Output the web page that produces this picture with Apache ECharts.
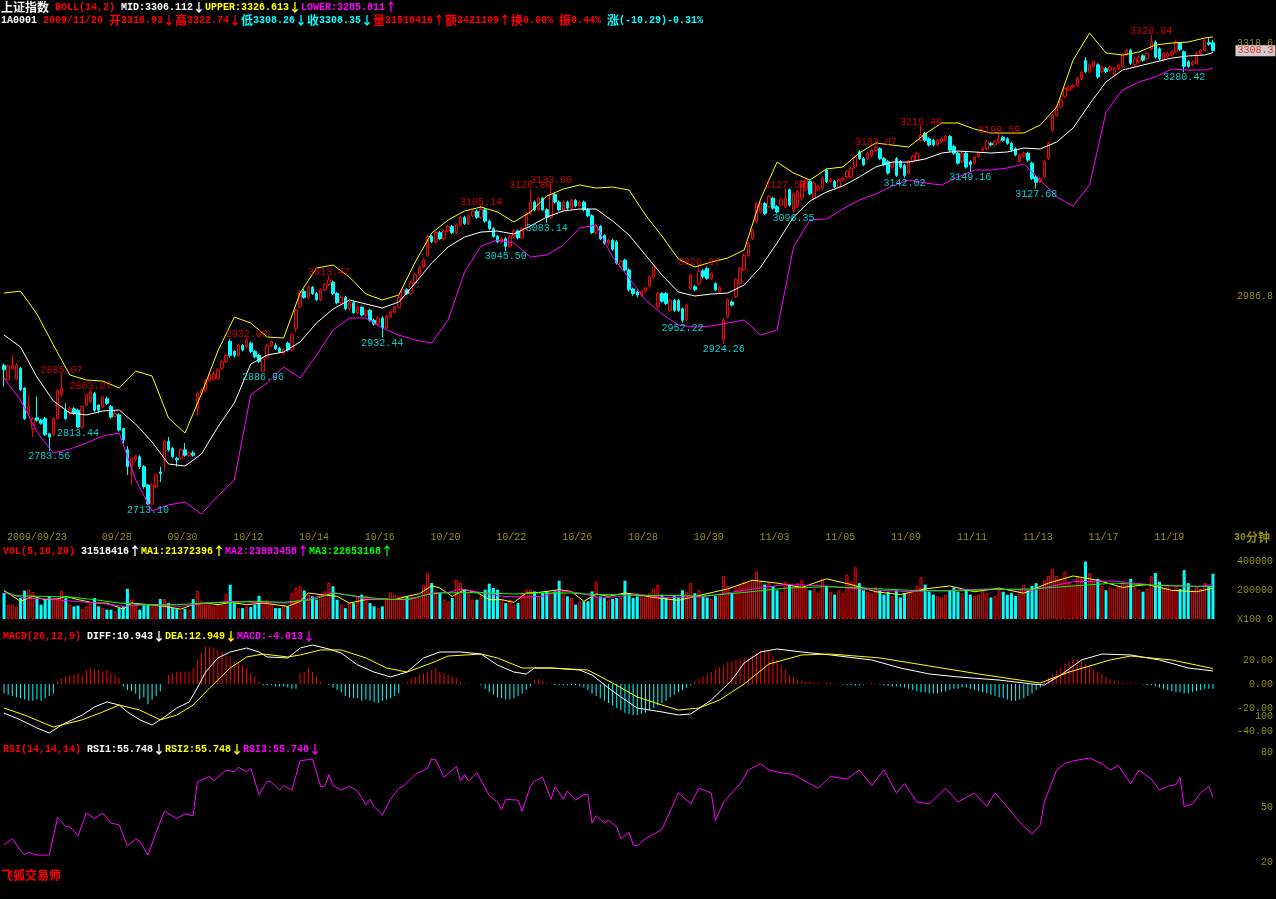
<!DOCTYPE html>
<html><head><meta charset="utf-8">
<script src="https://cdn.jsdelivr.net/npm/echarts@6.0.0/dist/echarts.min.js"></script>
<style>html,body{margin:0;padding:0;background:#000;}#c{width:1276px;height:899px;}</style>
</head><body><div id="c"></div>
<script>
// ---------- categories ----------
const dayNames = ['2009/09/23','09/24','09/25','09/28','09/29','09/30','10/09','10/12','10/13','10/14','10/15','10/16','10/19','10/20','10/21','10/22','10/23','10/26','10/27','10/28','10/29','10/30','11/02','11/03','11/04','11/05','11/06','11/09','11/10','11/11','11/12','11/13','11/16','11/17','11/18','11/19','11/20'];
const dayBars = [7,8,8,8,8,8,8,8,8,8,8,8,8,8,8,8,8,8,8,8,8,8,8,8,8,8,8,8,8,8,8,8,8,8,8,8,8];
const shownDays = ['2009/09/23','09/28','09/30','10/12','10/14','10/16','10/20','10/22','10/26','10/28','10/30','11/03','11/05','11/09','11/11','11/13','11/17','11/19'];

// ---------- 30-minute candles ----------
const O = [2896,2877,2892,2878,2892,2866,2833,2813,2827,2824,2826,2806,2805,2826,2858,2837,2833,2839,2837,2815,
2844,2848,2859,2844,2842,2852,2842,2829,2831,2813,2785,2763,2772,2776,2763,2739,2714,2737,2756,2772,
2796,2787,2774,2774,2785,2778,2781,2839,2859,2863,2876,2878,2879,2892,2901,2927,2914,2909,2922,2920,
2925,2914,2909,2888,2907,2922,2922,2918,2912,2925,2916,2944,2973,
2993,2985,2998,2990,2982,2995,3002,3005,2990,2978,2985,2970,2978,2965,2972,2962,2968,2955,2950,2958,
2945,2960,2966,2972,2985,2995,2990,3005,3015,3025,3040,3065,3058,3070,3062,3072,3078,3070,3080,3090,
3082,3092,3098,3090,3100,3085,3075,3065,3058,3062,3052,3065,3072,3063,3075,3095,3110,3100,3115,3100,
3090,3120,3110,3100,3110,3102,3112,3105,3110,3100,3092,3070,3078,3066,3056,3060,3058,3025,
3034,3021,2996,2992,2988,2993,3000,3012,2973,2990,2990,2968,2981,2981,2970,2956,2997,2999,3003,3020,
3023,3010,3003,2992,2929,2960,2979,2986,3003,3021,3040,3062,3084,3097,3108,3104,3115,3104,3106,3104,
3126,3100,3104,3115,3126,3137,3115,3126,3128,3152,3137,3137,3130,3139,3143,3143,3156,3176,3167,3167,
3171,3178,3180,3167,3163,3156,3167,3163,3158,3148,3163,3165,3191,3200,3193,3191,3185,3189,3191,3196,
3183,3174,3163,3174,3163,3161,3170,3178,3180,3187,3185,3189,3195,3193,3187,3180,3163,3170,3174,3161,
3143,3137,3143,3167,3204,3224,3235,3248,3257,3261,3263,3272,3296,3281,3288,3290,3281,3285,3283,3277,
3285,3288,3303,3309,3290,3294,3302,3298,3311,3320,3311,3296,3301,3303,3307,3318,3307,3294,3290,3292,
3305,3309,3319,3318.93];
const C = [2890,2895,2896,2896,2864,2826,2842,2826,2824,2820,2805,2802,2826,2863,2866,2826,2839,2833,2815,2842,
2857,2861,2837,2837,2854,2846,2828,2833,2811,2798,2763,2774,2776,2763,2737,2714,2739,2752,2754,2796,
2785,2776,2772,2785,2778,2781,2778,2859,2863,2876,2884,2884,2890,2901,2909,2909,2909,2922,2916,2929,
2914,2907,2901,2905,2922,2927,2918,2914,2916,2916,2936,2968,2992,
2985,2998,2990,2982,2995,3002,3008,2990,2978,2985,2970,2978,2965,2972,2962,2968,2955,2950,2958,2945,
2960,2966,2972,2985,2995,2990,3005,3015,3025,3035,3065,3058,3070,3062,3072,3078,3070,3080,3090,3082,
3092,3098,3090,3100,3085,3075,3065,3058,3062,3052,3065,3072,3063,3075,3095,3110,3100,3115,3100,3090,
3120,3110,3100,3110,3102,3112,3105,3110,3100,3092,3070,3078,3062,3056,3060,3048,3030,3032,
3021,2995,2990,2988,2993,2997,3012,3025,2990,2980,2977,2981,2968,2968,2955,2975,3014,2995,3019,3012,
3010,3016,2995,2998,2955,2982,2975,3008,3023,3040,3056,3073,3108,3108,3095,3117,3102,3097,3113,3115,
3106,3121,3124,3137,3139,3121,3135,3130,3141,3137,3140,3130,3139,3141,3150,3154,3169,3167,3159,3174,
3178,3182,3167,3159,3148,3161,3145,3156,3145,3163,3170,3174,3198,3191,3185,3185,3191,3193,3196,3178,
3174,3161,3174,3156,3159,3169,3174,3180,3189,3185,3189,3193,3191,3187,3178,3172,3172,3174,3165,3141,
3136,3141,3163,3187,3224,3235,3244,3259,3261,3263,3272,3280,3281,3290,3294,3274,3287,3281,3287,3285,
3290,3303,3309,3292,3298,3300,3296,3305,3320,3300,3298,3305,3305,3307,3320,3310,3288,3288,3294,3305,
3309,3322,3317,3308.35];
const H = [2898,2897,2909,2899,2894,2867,2857,2828,2855,2826,2828,2807,2828,2865,2885.07,2846,2842,2841,2839,2843,
2859,2863.97,2861,2844,2856,2855,2844,2836,2833,2814,2790,2776,2778,2778,2765,2740,2741,2754,2763,2799,
2802,2789,2776,2787,2794,2783,2784,2862,2866,2878,2886,2888,2892,2903,2911,2930,2916,2924,2924,2932.03,
2927,2916,2911,2907,2924,2929,2925,2920,2918,2927,2938,2970,2995,
2996,3000,3000,2992,2997,3004,3013.47,3007,2992,2987,2987,2980,2980,2974,2974,2970,2970,2957,2960,2960,
2962,2968,2974,2987,2997,2997,3007,3017,3027,3037,3067,3067,3072,3072,3074,3080,3080,3082,3092,3092,
3094,3100,3100,3105.14,3102,3087,3077,3067,3064,3064,3067,3074,3074,3077,3097,3126.80,3112,3117,3117,3102,
3133.60,3122,3112,3112,3112,3114,3114,3112,3112,3102,3094,3080,3080,3068,3062,3062,3060,3034,
3036,3023,2998,2994,2995,2999,3014,3027,2992,2992,2992,2983,2983,2983,2972,2977,3016,3001,3026.87,3022,
3025,3018,3005,3000,2958,2984,2981,3010,3025,3042,3058,3075,3110,3110,3110,3119,3117,3106,3115,3127.58,
3128,3123,3126,3139,3141,3139,3137,3132,3143,3154,3142,3139,3141,3143,3152,3156,3171,3178,3169,3176,
3180,3183.07,3182,3169,3165,3163,3169,3165,3160,3165,3172,3176,3210.49,3202,3195,3193,3193,3195,3198,3198,
3185,3176,3176,3176,3165,3171,3176,3182,3191,3189,3191,3199.59,3197,3195,3189,3182,3174,3176,3176,3163,
3145,3143,3165,3189,3226,3237,3246,3261,3263,3265,3274,3282,3300,3292,3296,3292,3289,3287,3289,3287,
3292,3305,3311,3311,3300,3302,3304,3307,3328.84,3322,3313,3307,3307,3309,3322,3320,3309,3296,3296,3307,
3311,3324,3325,3322.74];
const L = [2868,2876,2890,2876,2862,2824,2830,2802,2822,2818,2803,2783.56,2803,2824,2855,2824,2830,2831,2813.44,2813,
2842,2846,2835,2833,2840,2844,2826,2827,2809,2793,2752,2739,2770,2760,2734,2713.10,2713.5,2735,2743,2757,
2783,2774,2763,2772,2776,2776,2776,2830,2857,2861,2874,2876,2877,2890,2899,2906,2906,2907,2914,2918,
2912,2905,2899,2886.96,2905,2920,2916,2912,2910,2914,2914,2940,2970,
2983,2983,2988,2980,2980,2993,3000,2988,2976,2976,2968,2968,2963,2963,2960,2960,2953,2948,2948,2932.44,
2943,2958,2964,2970,2983,2988,2988,3003,3013,3023,3038,3056,3056,3060,3060,3070,3068,3068,3078,3080,
3080,3090,3088,3088,3083,3073,3063,3056,3056,3045.50,3050,3063,3061,3061,3073,3093,3098,3098,3098,3083.14,
3088,3108,3098,3098,3100,3100,3103,3103,3098,3090,3068,3068,3060,3054,3054,3046,3028,3023,
3019,2993,2987,2985,2986,2991,2998,3010,2970,2978,2975,2966,2966,2966,2952.22,2954,2995,2993,3001,3010,
3008,3008,2993,2990,2924.26,2958,2973,2984,3001,3019,3038,3060,3082,3095,3093,3102,3100,3095,3104,3102,
3104,3096.35,3102,3113,3124,3119,3113,3124,3126,3135,3135,3128,3128,3137,3141,3141,3154,3165,3157,3165,
3169,3176,3165,3157,3146,3154,3143,3154,3142.02,3146,3161,3163,3189,3189,3183,3183,3183,3187,3189,3176,
3172,3159,3161,3154,3149.16,3159,3168,3176,3178,3183,3183,3187,3189,3185,3176,3170,3161,3168,3163,3139,
3127.68,3135,3141,3165,3202,3222,3233,3246,3255,3259,3261,3270,3279,3279,3286,3272,3279,3279,3281,3275,
3283,3286,3301,3290,3288,3292,3294,3296,3309,3298,3296,3294,3299,3301,3305,3308,3280.42,3286,3288,3290,
3303,3307,3315,3308.26];

// ---------- marked highs / lows ----------
const hiIdx = [14,21,59,79,116,128,133,169,190,212,223,242,279];
const hiVal = [2885.07,2863.97,2932.03,3013.47,3105.14,3126.80,3133.60,3026.87,3127.58,3183.07,3210.49,3199.59,3328.84];
const loIdx = [11,18,35,63,92,122,132,165,175,192,219,235,251,287];
const loVal = [2783.56,2813.44,2713.10,2886.96,2932.44,3045.50,3083.14,2952.22,2924.26,3096.35,3142.02,3149.16,3127.68,3280.42];

// ---------- BOLL(14,2), read every 4 bars ----------
const bandIdx = [0,4,8,12,16,20,24,28,32,36,40,44,48,52,56,60,64,68,72,76,80,84,88,92,96,100,104,108,112,116,120,124,128,132,136,140,144,148,152,156,160,164,168,172,176,180,184,188,192,196,200,204,208,212,216,220,224,228,232,236,240,244,248,252,256,260,264,268,272,276,280,284,288,292,294];
const bollUp = [2990.7,2993.3,2963.2,2922.5,2883.2,2876.6,2875.3,2866.1,2888.4,2881.9,2826.8,2807.1,2858.3,2914.7,2959.2,2951.4,2933.0,2931.7,2990.7,3023.5,3027.5,3011.7,2989.4,2981.6,2988.1,3031.4,3069.4,3086.5,3098.3,3103.5,3097.0,3083.9,3097.0,3117.9,3127.1,3132.4,3128.4,3129.7,3125.8,3093.0,3065.5,3035.3,3024.8,3031.4,3036.6,3047.1,3114.0,3162.5,3148.1,3138.9,3153.4,3156.0,3174.3,3187.5,3184.8,3182.2,3199.3,3213.7,3213.7,3205.8,3200.6,3200.6,3200.6,3211.1,3234.7,3296.3,3331.7,3305.5,3302.9,3306.8,3316.0,3318.6,3319.9,3325.2,3326.6];
const bollMid = [2935.6,2919.9,2880.6,2849.1,2833.4,2830.8,2836.0,2837.3,2818.9,2795.3,2766.5,2763.8,2779.6,2815.0,2846.5,2897.6,2909.4,2913.4,2926.5,2951.4,2969.7,2981.6,2976.3,2971.1,2978.9,3003.8,3030.1,3051.1,3064.2,3070.7,3072.0,3068.1,3078.6,3090.4,3098.3,3100.9,3100.9,3085.2,3066.8,3040.6,3014.3,2992.0,2986.8,2989.4,2990.7,3001.2,3024.8,3056.3,3090.4,3111.4,3123.2,3131.1,3142.9,3156.0,3162.5,3162.5,3166.5,3174.3,3176.9,3175.7,3174.3,3175.7,3180.9,3179.6,3188.8,3207.1,3238.6,3267.5,3283.2,3288.4,3293.7,3298.9,3301.6,3302.9,3306.1];
const bollLo = [2879.3,2850.4,2808.4,2780.9,2786.1,2794.0,2803.2,2807.1,2745.5,2704.8,2712.7,2716.6,2700.9,2724.5,2745.5,2856.9,2872.7,2893.7,2879.3,2909.4,2942.2,2957.9,2957.9,2944.8,2935.6,2929.1,2925.2,2955.3,3018.3,3052.4,3060.2,3056.3,3037.9,3040.6,3053.7,3076.0,3079.9,3037.9,3010.4,2981.6,2963.2,2948.8,2946.1,2947.5,2951.4,2955.3,2935.6,2942.2,3051.1,3086.5,3087.8,3100.9,3112.7,3120.6,3131.1,3138.9,3135.0,3132.4,3142.9,3152.0,3152.0,3154.7,3159.9,3138.9,3116.6,3104.8,3132.4,3228.1,3257.0,3267.5,3274.0,3284.5,3283.2,3283.2,3285.8];

// ---------- volume (x100) ----------
const vol = [181000,100000,100000,88000,146000,197000,204000,188000,139000,100000,
135000,158000,146000,146000,197000,146000,100000,88000,93000,69000,
88000,107000,146000,88000,76000,65000,65000,53000,76000,88000,
211000,135000,100000,65000,100000,100000,88000,100000,139000,139000,
111000,76000,69000,53000,69000,65000,139000,197000,123000,111000,
100000,88000,100000,100000,176000,239000,111000,76000,76000,88000,
83000,100000,162000,123000,135000,100000,76000,76000,100000,88000,
181000,216000,228000,199000,170000,158000,135000,176000,192000,251000,
228000,135000,100000,76000,111000,111000,158000,170000,162000,111000,
88000,76000,88000,146000,185000,170000,158000,158000,158000,158000,
146000,158000,239000,320000,251000,192000,181000,135000,123000,146000,
274000,255000,204000,181000,135000,135000,158000,204000,246000,216000,
204000,135000,111000,135000,100000,111000,185000,204000,204000,192000,
158000,181000,192000,181000,192000,267000,204000,158000,146000,100000,
123000,123000,123000,192000,262000,158000,146000,130000,139000,146000,
146000,267000,181000,146000,158000,158000,
150000,180000,210000,240000,170000,150000,140000,160000,150000,200000,
190000,250000,180000,200000,160000,150000,140000,160000,170000,300000,
230000,180000,220000,240000,260000,250000,270000,330000,260000,240000,
250000,230000,200000,190000,260000,240000,230000,250000,270000,220000,
200000,210000,180000,280000,230000,190000,170000,200000,180000,310000,
260000,360000,250000,200000,190000,180000,220000,200000,170000,190000,
160000,200000,150000,180000,190000,200000,230000,290000,240000,190000,
170000,160000,150000,170000,200000,220000,190000,180000,210000,170000,
160000,170000,200000,180000,150000,160000,200000,190000,170000,180000,
160000,210000,240000,200000,230000,250000,220000,270000,300000,350000,
300000,280000,330000,260000,240000,300000,280000,400000,320000,260000,
280000,230000,200000,220000,210000,230000,260000,240000,280000,220000,
200000,190000,210000,300000,320000,260000,220000,240000,200000,230000,
210000,340000,250000,200000,230000,210000,250000,230000,315184];
const ma5Idx = [0,4,7,10,13,15,18,22,25,29,31,35,39,43,46,49,52,55,59,63,69,72,74,77,81,84,88,92,95,98,101,104,106,109,112,115,118,121,124,127,130,135,138,141,144,147,151,154,158,164,170,176,182,188,194,200,206,212,218,224,230,236,242,248,254,260,266,272,278,284,290,294];
const ma5Val = [199000,123000,158000,135000,139000,158000,135000,111000,111000,69000,111000,100000,88000,69000,100000,111000,100000,116000,100000,111000,88000,123000,181000,170000,158000,111000,135000,139000,135000,158000,176000,232000,216000,158000,204000,185000,135000,135000,116000,181000,185000,204000,192000,123000,174000,158000,181000,170000,150000,130000,170000,210000,270000,250000,220000,280000,240000,190000,170000,210000,230000,190000,215000,180000,250000,300000,270000,220000,240000,200000,190000,213724];
const ma10Idx = [0,5,11,17,23,29,35,43,49,55,61,69,74,80,83,88,94,99,104,108,111,116,121,126,131,135,140,145,150,154,160,170,180,190,200,210,220,230,240,250,260,270,280,290,294];
const ma10Val = [181000,146000,139000,123000,111000,88000,100000,88000,111000,123000,116000,111000,139000,185000,170000,139000,135000,139000,181000,185000,209000,185000,158000,153000,158000,199000,181000,146000,158000,174000,150000,155000,200000,240000,230000,205000,190000,200000,210000,200000,260000,265000,235000,225000,239935];
const ma20Idx = [0,3,9,16,22,28,34,42,49,55,61,68,75,80,86,92,98,103,106,113,118,124,130,138,144,151,155,160,170,180,190,200,210,220,230,240,250,260,270,280,290,294];
const ma20Val = [192000,162000,158000,153000,135000,111000,100000,100000,111000,116000,123000,116000,135000,181000,158000,139000,135000,170000,181000,185000,181000,174000,181000,181000,170000,170000,162000,165000,160000,185000,215000,225000,215000,200000,195000,205000,210000,230000,250000,235000,228000,226532];

// ---------- MACD(26,12,9) ----------
const macdHist = [-8,-9,-10,-11,-12,-13,-14,-14,-13,-14,-12,-10,-8,
2,4.7,6,7.5,7.5,9,7.5,11.7,13.1,11.7,11.7,10.5,11.7,9,7.5,4.7,
-2,-5,-6,-8,-13,-11,-17,-13,-10,-6,
0.6,7.5,8.9,10.3,10.3,10.3,10.3,13.1,20.1,25.7,31.2,31.2,29.9,28.5,27.1,24.3,22.9,18.7,17.3,15.9,13.1,8.9,6.1,2,
-1,-1,-1,-2,-2,-2,-3,-4,-4,
8.9,10.3,13.1,10.3,6.1,1.9,0.5,
-1,-3,-5,-7,-10,-11,-12,-12,-14,-13,-14,-15,-16,-14,-13,-12,-10,-8,
0.6,1.9,4.7,6.1,7.5,8.9,10.3,11.7,13.1,10.3,8.9,7.5,6.1,4.7,1.9,0.6,0.5,0.3,0.2,
-1,-4,-7,-9,-11,-12,-13,-13,-12,-10,-8,-5,-2,
3,4,2,1,0.5,
-1,-1,-1,-1,-1,-1,-2,-3,-5,-8,-10,-12,-14,-16,-18,-20,-22,-24,-25,-26,-26,
-25,-24,-22,-20,-18,-16,-14,-11,-9,-7,-5,-3,
-1,2,4,6,8,10,12,14,16,18,19,20,21,22,22,
24,26,28,30,28,24,20,16,12,8,
6,4,3,2,2,1,1,
0.5,1,1,0.5,0.3,-0.5,-1,-1,-1.5,-1,-0.5,0.5,1,0.5,-0.5,-1,-1.5,-2,-2,
-2,-3,-4,-5,-6,-7,-7,-8,-8,-8,-7,-6,-5,-4,-4,-3,-3,-4,-5,-6,-7,-8,-9,-10,
-11,-12,-13,-14,-14,-13,-12,-10,-8,-5,-3,
2,5,8,11,14,17,19,20,20,19,17,15,
12,10,8,6,4,3,2,
1,0.5,1,0.5,0.3,-0.5,-1,-1,
-2,-3,-4,-5,-6,-7,-7,-8,-8,-7,-6,-5,-4,-4,-4.013];
const diffIdx = [0,4,8,11,14,19,22,25,28,30,33,36,39,42,45,47,49,52,55,59,62,64,69,72,75,79,82,86,90,94,98,102,106,111,116,120,124,127,129,133,140,143,147,150,154,160,164,167,172,177,180,184,188,194,201,211,218,225,232,242,250,253,257,262,267,274,281,288,294];
const diffVal = [-24.4,-30,-36.8,-41,-34.3,-26,-19.2,-15,-17.6,-23.4,-30,-34.3,-27.6,-20.1,-15.1,-3.3,10,21.8,26.8,30.1,26.8,22.6,21.8,30.1,32.6,29.3,25.9,15.9,10,5.9,10,21.8,26.8,26.8,25.1,15.9,10,8.4,13.4,13.4,11.7,7.5,-3.3,-10.9,-20.1,-23.4,-25.9,-25.1,-13.4,3.3,17.6,26.8,29.3,26.8,24.3,20.1,13.4,8.4,5.9,3.3,0,-0.8,7.5,20.1,25.1,24.3,20.1,13.4,10.943];
const deaIdx = [0,5,12,19,24,28,33,38,42,46,50,55,59,63,69,72,77,82,88,93,98,104,108,116,120,126,133,142,148,154,160,164,169,174,180,186,194,201,213,225,237,247,252,259,269,274,284,291,294];
const deaVal = [-20.1,-26,-36,-30,-23.4,-17.6,-21.8,-30,-26,-17.6,-3.3,13.4,22.6,25.1,22.6,24.3,28.5,28.5,21.8,13.4,10,17.6,23.4,25.1,21.8,13.4,13.4,11.7,0.8,-10.9,-17.6,-21.8,-20.1,-13.4,0,16.7,24.3,25.1,21.8,15.1,8.4,3.3,0.8,10,20.1,23.4,20.1,15.1,12.949];

// ---------- RSI(14) ----------
const rsiIdx = [0,2,4,5,6,8,11,13,15,16,18,20,22,24,26,28,30,32,33,35,37,39,42,44,46,47,50,51,54,56,57,59,60,62,64,65,67,68,70,72,75,77,78,79,80,82,84,86,88,89,90,92,94,96,97,100,103,104,105,107,109,110,111,112,113,115,118,120,121,122,125,126,128,129,131,133,134,136,137,139,141,142,143,144,146,147,149,150,152,153,154,156,160,162,164,167,169,172,173,175,179,181,184,186,189,192,196,198,201,205,208,211,214,217,219,222,225,229,232,236,239,241,243,247,250,252,253,256,258,260,264,267,269,271,274,276,279,281,283,285,286,287,289,291,293,294];
const rsiVal = [29.5,33,26.5,24,25.5,24,24,44.5,39.5,39.5,34.5,47,44,47,41.5,40.5,29,33,31.5,24,36.5,48,44,46.5,45.5,64,67,64.5,70.5,69.5,72,69.5,71.5,57,64.5,64,59.5,62,59.5,75.5,76.5,61.5,61.5,68,62,59.5,61.5,59,51.5,54.5,50.5,46,54.5,60.5,61.5,68,71.5,76.5,76,66.5,70.5,72.5,64.5,68,64.5,69,56.5,53,49,54.5,54,48,61.5,64.5,66.5,54.5,61.5,54.5,59,54,57,57,41.5,45.5,41.5,43,39.5,33,36.5,29.5,29,33,38,48,58,52,60.5,58,43,53,63,70.5,74,70.5,69,68,63,60.5,67,65.5,70.5,62,70.5,58,63,53,52,60.5,53,58,50.5,58,53,42,35.5,40.5,53,70.5,74,75.5,77,74,70.5,73,63,70.5,65.5,59.5,61.5,62.5,66.5,50.5,52,58,61.5,55.748];

// ---------- axis tick labels ----------
const priceTicks = [2986.8, 3318.6];
const volTicks = [0, 200000, 400000];
const macdTicks = [-40, -20, 0, 20];
const rsiTicks = [20, 50, 80, 100];

// ================= build =================
const cats = [];
dayNames.forEach((d, i) => { for (let k = 0; k < dayBars[i]; k++) cats.push(d + '|' + k); });
const N = cats.length;
const candle = O.map((o, i) => [o, C[i], L[i], H[i]]);
const pairs = (idx, val) => idx.map((x, k) => [x, val[k]]);
const up = i => C[i] >= O[i];
const volUp = vol.map((v, i) => up(i) ? v : '-');
const volDn = vol.map((v, i) => up(i) ? '-' : v);

const RED = '#ff0000', CYAN = '#00ffff', YEL = '#ffff00', MAG = '#ff00ff', GRN = '#00ff00', WHT = '#ffffff', OLV = '#8f8f10';
const MONO = '"Liberation Mono","DejaVu Sans Mono",monospace';
const CJK = '"Noto Sans CJK SC","Noto Sans CJK JP",sans-serif';
const rich = {};
[['r', RED], ['c', CYAN], ['y', YEL], ['m', MAG], ['g', GRN], ['w', WHT], ['o', OLV]].forEach(([k, col]) => {
  rich[k + 'm'] = { color: col, fontFamily: MONO, fontSize: 10, lineHeight: 12 };
  rich[k + 'c'] = { color: col, fontFamily: CJK, fontSize: 12, lineHeight: 12 };
});
const T = (left, top, text) => ({ left, top, padding: 0, text, textStyle: { fontFamily: MONO, fontSize: 10, color: WHT, lineHeight: 12, rich } });

const G = [
  { left: 2, width: 1213, top: 28, height: 494 },
  { left: 2, width: 1213, top: 556, height: 63 },
  { left: 2, width: 1213, top: 640, height: 102 },
  { left: 2, width: 1213, top: 716, height: 200 }
];
const xAx = G.map((g, i) => ({
  type: 'category', gridIndex: i, data: cats, boundaryGap: true,
  axisLine: { show: false }, axisTick: { show: false }, splitLine: { show: false },
  axisLabel: i === 0 ? {
    show: true, color: OLV, fontFamily: MONO, fontSize: 10, align: 'left', margin: 10, padding: [0, 0, 0, 3],
    interval: (idx, v) => v.endsWith('|0') && shownDays.includes(v.split('|')[0]),
    formatter: v => v.split('|')[0]
  } : { show: false }
}));
const yLab = (vals, fmt) => ({ show: true, color: OLV, fontFamily: MONO, fontSize: 10, align: 'right', margin: 58, customValues: vals, formatter: fmt });
const yBase = { position: 'right', axisLine: { show: false }, axisTick: { show: false }, splitLine: { show: false } };
const yAx = [
  Object.assign({ type: 'value', gridIndex: 0, min: 2690.4, max: 3338.3, axisLabel: yLab(priceTicks, v => v.toFixed(1)) }, yBase),
  Object.assign({ type: 'value', gridIndex: 1, min: 0, max: 439000, axisLabel: yLab(volTicks, v => v === 0 ? 'X100 0' : String(v)) }, yBase),
  Object.assign({ type: 'value', gridIndex: 2, min: -48.53, max: 36.82, axisLabel: yLab(macdTicks, v => v.toFixed(2)) }, yBase),
  Object.assign({ type: 'value', gridIndex: 3, min: 0, max: 100, axisLabel: yLab(rsiTicks, v => String(v)) }, yBase)
];
const line = (xi, data, color) => ({ type: 'line', xAxisIndex: xi, yAxisIndex: xi, data, showSymbol: false, symbol: 'none', silent: true, lineStyle: { color, width: 1 }, z: 3 });
const lastC = C[N - 1];

const option = {
  backgroundColor: '#000', animation: false,
  grid: G, xAxis: xAx, yAxis: yAx,
  title: [
    T(1, 1, '{wc|上证指数} {rm|BOLL(14,2)} {wm|MID:3306.112}{wc|↓}{ym|UPPER:3326.613}{yc|↓}{mm|LOWER:3285.811}{mc|↑}'),
    T(1, 14, '{wm|1A0001} {rm|2009/11/20} {rc|开}{rm|3318.93}{rc|↓}{rc|高}{rm|3322.74}{rc|↓}{cc|低}{cm|3308.26}{cc|↓}{cc|收}{cm|3308.35}{cc|↓}{rc|量}{rm|31518416}{rc|↑}{rc|额}{rm|3421109}{rc|↑}{rc|换}{rm|0.00%} {rc|振}{rm|0.44%} {cc|涨}{cm|(-10.29)-0.31%}'),
    T(3, 545, '{rm|VOL(5,10,20)} {wm|31518416}{wc|↑}{ym|MA1:21372396}{yc|↑}{mm|MA2:23993458}{mc|↑}{gm|MA3:22653168}{gc|↑}'),
    T(3, 630, '{rm|MACD(26,12,9)} {wm|DIFF:10.943}{wc|↓}{ym|DEA:12.949}{yc|↓}{mm|MACD:-4.013}{mc|↓}'),
    T(3, 743, '{rm|RSI(14,14,14)} {wm|RSI1:55.748}{wc|↓}{ym|RSI2:55.748}{yc|↓}{mm|RSI3:55.748}{mc|↓}'),
    T(1, 869, '{rc|飞狐交易师}'),
    T(1234, 531, '{om|30}{oc|分钟}')
  ],
  series: [
    { type: 'candlestick', xAxisIndex: 0, yAxisIndex: 0, data: candle, barWidth: 3,
      itemStyle: { color: '#000', color0: CYAN, borderColor: RED, borderColor0: CYAN, borderWidth: 1 }, z: 2 },
    line(0, pairs(bandIdx, bollMid), WHT),
    line(0, pairs(bandIdx, bollUp), YEL),
    line(0, pairs(bandIdx, bollLo), MAG),
    { type: 'scatter', xAxisIndex: 0, yAxisIndex: 0, data: pairs(hiIdx, hiVal), symbolSize: 1, itemStyle: { color: 'rgba(0,0,0,0)' }, silent: true, z: 5,
      label: { show: true, position: 'top', distance: -2, color: RED, fontFamily: MONO, fontSize: 10, formatter: p => p.value[1].toFixed(2) } },
    { type: 'scatter', xAxisIndex: 0, yAxisIndex: 0, data: pairs(loIdx, loVal), symbolSize: 1, itemStyle: { color: 'rgba(0,0,0,0)' }, silent: true, z: 5,
      label: { show: true, position: 'bottom', distance: 0, color: CYAN, fontFamily: MONO, fontSize: 10, formatter: p => p.value[1].toFixed(2) } },
    // last-price tag on the right
    { type: 'scatter', xAxisIndex: 0, yAxisIndex: 0, data: [[N - 1, lastC]], symbolSize: 1, itemStyle: { color: 'rgba(0,0,0,0)' }, silent: true, z: 6, clip: false,
      label: { show: true, position: 'right', distance: 22, color: RED, backgroundColor: WHT, fontFamily: MONO, fontSize: 10, padding: [1, 2, 0, 2],
        formatter: p => (Math.floor(p.value[1] * 10) / 10).toFixed(1) } },
    { type: 'bar', xAxisIndex: 1, yAxisIndex: 1, data: volUp, barWidth: 3, barGap: '-100%', itemStyle: { color: '#000', borderColor: RED, borderWidth: 1 }, silent: true },
    { type: 'bar', xAxisIndex: 1, yAxisIndex: 1, data: volDn, barWidth: 3, barGap: '-100%', itemStyle: { color: CYAN }, silent: true },
    line(1, pairs(ma5Idx, ma5Val), YEL),
    line(1, pairs(ma10Idx, ma10Val), MAG),
    line(1, pairs(ma20Idx, ma20Val), GRN),
    { type: 'bar', xAxisIndex: 2, yAxisIndex: 2, data: macdHist, barWidth: 1, silent: true,
      itemStyle: { color: p => p.value >= 0 ? RED : CYAN } },
    line(2, pairs(diffIdx, diffVal), WHT),
    line(2, pairs(deaIdx, deaVal), YEL),
    line(3, pairs(rsiIdx, rsiVal), MAG)
  ]
};
const chart = echarts.init(document.getElementById('c'), null, { renderer: 'canvas' });
chart.setOption(option);
</script></body></html>
